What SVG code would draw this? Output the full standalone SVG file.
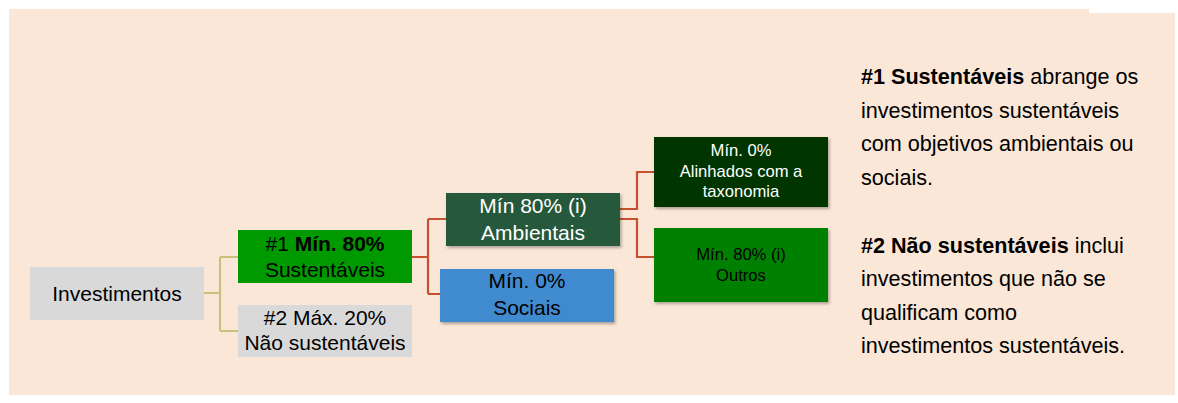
<svg xmlns="http://www.w3.org/2000/svg" width="1178" height="403" viewBox="0 0 1178 403">
<style>
.t{font-family:"Liberation Sans",Arial,sans-serif;text-anchor:middle}
.m{font-size:21px}
.s{font-size:16.6px}
.w{fill:#ffffff}
.k{fill:#000000}
.side{font-family:"Liberation Sans",Arial,sans-serif;font-size:21.6px;fill:#000}
.c1{fill:none;stroke:#c9c07a;stroke-width:2.2}
.c2{fill:none;stroke:#c9502e;stroke-width:2.2}
</style>
<defs>
<filter id="sh" x="-10%" y="-10%" width="125%" height="135%">
<feDropShadow dx="1.5" dy="2" stdDeviation="1.5" flood-color="#000" flood-opacity="0.3"/>
</filter>
</defs>
<rect width="1178" height="403" fill="#ffffff"/>
<path d="M9,9 H1089 V13 H1175 V395 H9 Z" fill="#fae7d7"/>
<g id="connectors">
<path class="c1" d="M204,293 H220 M220,257 V331 M220,257 H238 M220,331 H238"/>
<path class="c2" d="M412,257 H428 M428,219 V294 M428,219 H446 M428,294 H440"/>
<path class="c2" d="M620,209 H637 V172 H654"/>
<path class="c2" d="M620,219 H637 V257 H654"/>
</g>
<g id="investimentos">
<rect x="30" y="267" width="174" height="53" fill="#d9d9d9"/>
<text class="t m k" x="117" y="300.5">Investimentos</text>
</g>
<g id="sustentaveis">
<rect x="238" y="230" width="174" height="53" fill="#009a00"/>
<text class="t m k" x="325" y="251">#1 <tspan font-weight="bold">Mín. 80%</tspan></text>
<text class="t m k" x="325" y="277">Sustentáveis</text>
</g>
<g id="nao-sustentaveis">
<rect x="238" y="305" width="174" height="52" fill="#d9d9d9"/>
<text class="t m k" x="325" y="325">#2 Máx. 20%</text>
<text class="t m k" x="325" y="350">Não sustentáveis</text>
</g>
<g id="ambientais">
<rect x="446" y="193" width="174" height="53" fill="#26593a" filter="url(#sh)"/>
<text class="t m w" x="533" y="213">Mín 80% (i)</text>
<text class="t m w" x="533" y="240">Ambientais</text>
</g>
<g id="sociais">
<rect x="440" y="269" width="174" height="53" fill="#3f8bd0" filter="url(#sh)"/>
<text class="t m k" x="527" y="288">Mín. 0%</text>
<text class="t m k" x="527" y="315">Sociais</text>
</g>
<g id="taxonomia">
<rect x="654" y="137" width="174" height="70" fill="#023400" filter="url(#sh)"/>
<text class="t s w" x="741" y="156">Mín. 0%</text>
<text class="t s w" x="741" y="177">Alinhados com a</text>
<text class="t s w" x="741" y="197">taxonomia</text>
</g>
<g id="outros">
<rect x="654" y="228" width="174" height="74" fill="#008000" filter="url(#sh)"/>
<text class="t s k" x="741" y="260">Mín. 80% (i)</text>
<text class="t s k" x="741" y="281">Outros</text>
</g>
<g id="legend">
<text class="side" x="861" y="84"><tspan font-weight="bold">#1 Sustentáveis</tspan> abrange os</text>
<text class="side" x="861" y="117.5">investimentos sustentáveis</text>
<text class="side" x="861" y="151">com objetivos ambientais ou</text>
<text class="side" x="861" y="184.5">sociais.</text>
<text class="side" x="861" y="252.5"><tspan font-weight="bold">#2 Não sustentáveis</tspan> inclui</text>
<text class="side" x="861" y="286">investimentos que não se</text>
<text class="side" x="861" y="319.5">qualificam como</text>
<text class="side" x="861" y="353">investimentos sustentáveis.</text>
</g>
</svg>
